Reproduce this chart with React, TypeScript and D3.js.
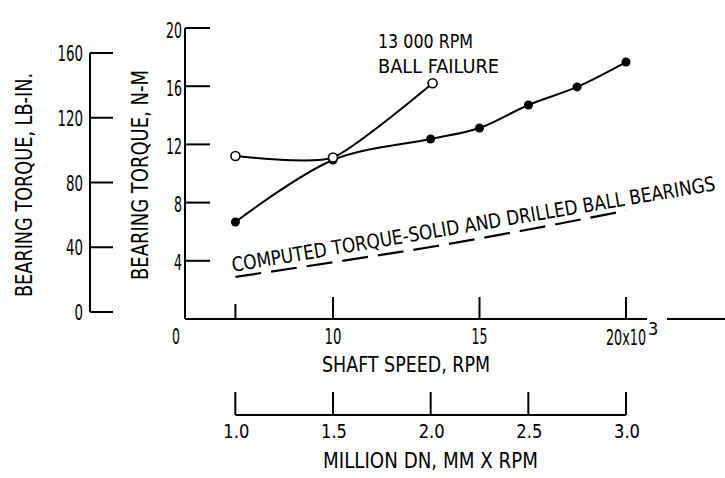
import React from "react";
import * as d3 from "d3";

// ---- data (shaft speed in thousands of rpm, torque in N-m) ----
const rpmSolid = [6.67, 10, 13.33, 15, 16.67, 18.33, 20];
const torqueSolid = [6.67, 10.93, 12.37, 13.13, 14.71, 15.95, 17.66];
const rpmOpen = [6.67, 10, 13.4];
const torqueOpen = [11.2, 11.1, 16.2];
const rpmComputed = [6.67, 10, 13.33, 16.67, 20];
const torqueComputed = [2.9, 3.9, 4.95, 6.15, 7.45];

const nmTicks = [4, 8, 12, 16, 20];
const lbTicks = [0, 40, 80, 120, 160];
const rpmTicks = [10, 15, 20];
const dnTicks = [1.0, 1.5, 2.0, 2.5, 3.0];
const dnLabels = ["1.0", "1.5", "2.0", "2.5", "3.0"];

const FONT = "'DejaVu Sans Condensed', 'DejaVu Sans', sans-serif";

export default function App() {
  const x = d3.scaleLinear().domain([10, 20]).range([333, 626]);
  const y = d3.scaleLinear().domain([0, 20]).range([319, 28]);
  const yLb = d3.scaleLinear().domain([0, 160]).range([312, 53]);
  const dn = (v: number) => x(v / 0.15);

  const line = d3
    .line<[number, number]>()
    .x((d) => x(d[0]))
    .y((d) => y(d[1]))
    .curve(d3.curveCatmullRom.alpha(0.5));
  const openLine = d3
    .line<[number, number]>()
    .x((d) => x(d[0]))
    .y((d) => y(d[1]))
    .curve(d3.curveCardinal.tension(0.4));
  const straight = d3
    .line<[number, number]>()
    .x((d) => x(d[0]))
    .y((d) => y(d[1]))
    .curve(d3.curveMonotoneX);

  const solidPts = rpmSolid.map((r, i) => [r, torqueSolid[i]] as [number, number]);
  const openPts = rpmOpen.map((r, i) => [r, torqueOpen[i]] as [number, number]);
  const compPts = rpmComputed.map((r, i) => [r, torqueComputed[i]] as [number, number]);

  const axisY0 = y(0);
  const dnY = 415;

  return (
    <svg
      width={725}
      height={478}
      style={{ position: "absolute", left: 0, top: 0, background: "#fff" }}
      fontFamily={FONT}
      fill="#000"
    >
      <rect width={725} height={478} fill="#fff" />

      {/* left axis: LB-IN */}
      <line x1={90} x2={90} y1={yLb(160)} y2={yLb(0)} stroke="#000" strokeWidth={2} />
      {lbTicks.map((t) => (
        <g key={"lb" + t}>
          <line x1={90} x2={113} y1={yLb(t)} y2={yLb(t)} stroke="#000" strokeWidth={2} />
          <text
            x={83}
            y={yLb(t) + 8}
            fontSize={21}
            textAnchor="end"
            textLength={String(t).length * 8.5}
            lengthAdjust="spacingAndGlyphs"
          >
            {t}
          </text>
        </g>
      ))}
      <text
        transform="translate(32,297) rotate(-90)"
        fontSize={23}
        textLength={224}
        lengthAdjust="spacingAndGlyphs"
      >
        BEARING TORQUE, LB-IN.
      </text>

      {/* main axis: N-M */}
      <line x1={185} x2={185} y1={y(20)} y2={axisY0} stroke="#000" strokeWidth={2} />
      {nmTicks.map((t) => (
        <g key={"nm" + t}>
          <line x1={185} x2={210} y1={y(t)} y2={y(t)} stroke="#000" strokeWidth={2} />
          <text
            x={182}
            y={y(t) + 9.5}
            fontSize={21}
            textAnchor="end"
            textLength={String(t).length * 8}
            lengthAdjust="spacingAndGlyphs"
          >
            {t}
          </text>
        </g>
      ))}
      <text
        transform="translate(148,280) rotate(-90)"
        fontSize={23}
        textLength={210}
        lengthAdjust="spacingAndGlyphs"
      >
        BEARING TORQUE, N-M
      </text>

      {/* x axis: shaft speed */}
      <line x1={185} x2={647} y1={axisY0} y2={axisY0} stroke="#000" strokeWidth={2} />
      <line x1={667} x2={725} y1={axisY0} y2={axisY0} stroke="#000" strokeWidth={2} />
      <line x1={x(6.67)} x2={x(6.67)} y1={axisY0 - 15} y2={axisY0} stroke="#000" strokeWidth={2} />
      {rpmTicks.map((t) => (
        <line key={"rt" + t} x1={x(t)} x2={x(t)} y1={axisY0 - 22} y2={axisY0} stroke="#000" strokeWidth={2} />
      ))}
      <text x={176} y={344} fontSize={21} textAnchor="middle" textLength={8} lengthAdjust="spacingAndGlyphs">
        0
      </text>
      <text x={x(10)} y={344} fontSize={21} textAnchor="middle" textLength={17} lengthAdjust="spacingAndGlyphs">
        10
      </text>
      <text x={x(15)} y={344} fontSize={21} textAnchor="middle" textLength={16} lengthAdjust="spacingAndGlyphs">
        15
      </text>
      <text x={606} y={345} fontSize={21}>
        <tspan textLength={40} lengthAdjust="spacingAndGlyphs">20x10</tspan>
        <tspan dx={2} dy={-10} fontSize={18}>3</tspan>
      </text>
      <text x={322} y={372} fontSize={22} textLength={168} lengthAdjust="spacingAndGlyphs">
        SHAFT SPEED, RPM
      </text>

      {/* secondary axis: million DN */}
      <line x1={dn(1.0)} x2={dn(3.0)} y1={dnY} y2={dnY} stroke="#000" strokeWidth={2} />
      {dnTicks.map((t, i) => (
        <g key={"dn" + t}>
          <line x1={dn(t)} x2={dn(t)} y1={dnY - 23} y2={dnY} stroke="#000" strokeWidth={2} />
          <text
            x={dn(t) + 1}
            y={438}
            fontSize={20}
            textAnchor="middle"
            textLength={26}
            lengthAdjust="spacingAndGlyphs"
          >
            {dnLabels[i]}
          </text>
        </g>
      ))}
      <text x={323} y={468} fontSize={21} textLength={215} lengthAdjust="spacingAndGlyphs">
        MILLION DN, MM X RPM
      </text>

      {/* computed torque, dashed */}
      <path
        d={straight(compPts) || ""}
        fill="none"
        stroke="#000"
        strokeWidth={2.2}
        strokeDasharray="26 10"
      />
      <text
        transform="translate(233,272) rotate(-9.6)"
        fontSize={20}
        textLength={490}
        lengthAdjust="spacingAndGlyphs"
      >
        COMPUTED TORQUE-SOLID AND DRILLED BALL BEARINGS
      </text>

      {/* open series: 13 000 rpm ball failure */}
      <path d={openLine(openPts) || ""} fill="none" stroke="#000" strokeWidth={2} />
      {/* solid series */}
      <path d={line(solidPts) || ""} fill="none" stroke="#000" strokeWidth={2} />
      {solidPts.map((p, i) => (
        <circle key={"s" + i} cx={x(p[0])} cy={y(p[1])} r={4.5} fill="#000" />
      ))}
      {openPts.map((p, i) => (
        <circle key={"o" + i} cx={x(p[0])} cy={y(p[1])} r={4.5} fill="#fff" stroke="#000" strokeWidth={1.6} />
      ))}

      <text x={378} y={48} fontSize={20} textLength={95} lengthAdjust="spacingAndGlyphs">
        13 000 RPM
      </text>
      <text x={378} y={73} fontSize={20} textLength={121} lengthAdjust="spacingAndGlyphs">
        BALL FAILURE
      </text>
    </svg>
  );
}
